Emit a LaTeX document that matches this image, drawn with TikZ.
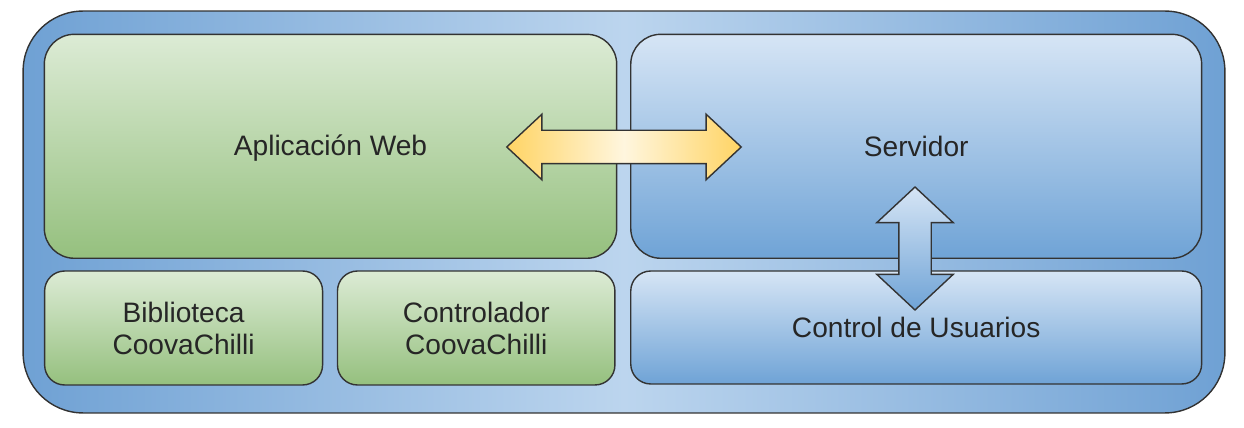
\documentclass[tikz,border=0pt]{standalone}
\usepackage{fontspec}
\setmainfont{Liberation Sans}
\usepackage{xcolor}
\usepackage{tikz}
\usetikzlibrary{shapes.arrows}

\definecolor{frameblue}{HTML}{6FA1D4}
\definecolor{framelight}{HTML}{BCD5EE}
\definecolor{greentop}{HTML}{DCEBD5}
\definecolor{greenbot}{HTML}{95C07E}
\definecolor{bluetop}{HTML}{D6E5F5}
\definecolor{bluebot}{HTML}{6FA3D6}
\definecolor{gold}{HTML}{FFD464}
\definecolor{cream}{HTML}{FFF6DE}

\begin{document}
\begin{tikzpicture}[x=0.02cm, y=-0.02cm,
    box/.style={draw=black!80, line width=0.8pt, rectangle, rounded corners=0.6cm, font=\fontsize{16}{18.2}\selectfont, text=black!85, align=center},
    greenbox/.style={box, top color=greentop, bottom color=greenbot},
    bluebox/.style={box, top color=bluetop, bottom color=bluebot},
    smallbox/.style={rounded corners=0.4cm},
    link/.style={double arrow, draw=black!80, line width=0.8pt, inner xsep=0pt}]
      \useasboundingbox (0,0) rectangle (1244,428);

      \node[draw=black!80, line width=0.8pt, rectangle, rounded corners=1.2cm, minimum width=24.04cm, minimum height=8.04cm, left color=frameblue, right color=frameblue, middle color=framelight] (frame) at (624,212) {};

      \node[greenbox, minimum width=11.45cm, minimum height=4.48cm, text height=1.23em, text depth=0.21em] (app) at (330.5,146.3) {Aplicación Web};
      \node[greenbox, smallbox, minimum width=5.56cm, minimum height=2.28cm] (lib) at (183.6,328) {Biblioteca\\CoovaChilli};
      \node[greenbox, smallbox, minimum width=5.55cm, minimum height=2.28cm] (ctrl) at (476.2,328) {Controlador\\CoovaChilli};

      \node[bluebox, minimum width=11.42cm, minimum height=4.48cm] (srv) at (916.2,146.3) {Servidor};
      \node[bluebox, smallbox, minimum width=11.42cm, minimum height=2.26cm] (users) at (916.2,327.5) {Control de Usuarios};

      \node[link, minimum height=4.69cm, minimum width=1.28cm, inner ysep=0.32cm, double arrow head extend=0.32cm, double arrow tip angle=86, left color=gold, right color=gold, middle color=cream] (webio) at (624,147) {};
      \node[link, rotate=90, minimum height=2.46cm, minimum width=1.5cm, inner ysep=0.31cm, double arrow head extend=0.44cm, double arrow tip angle=94, top color=bluetop, bottom color=bluebot] (userio) at (915,248.5) {};
    \end{tikzpicture}
\end{document}
